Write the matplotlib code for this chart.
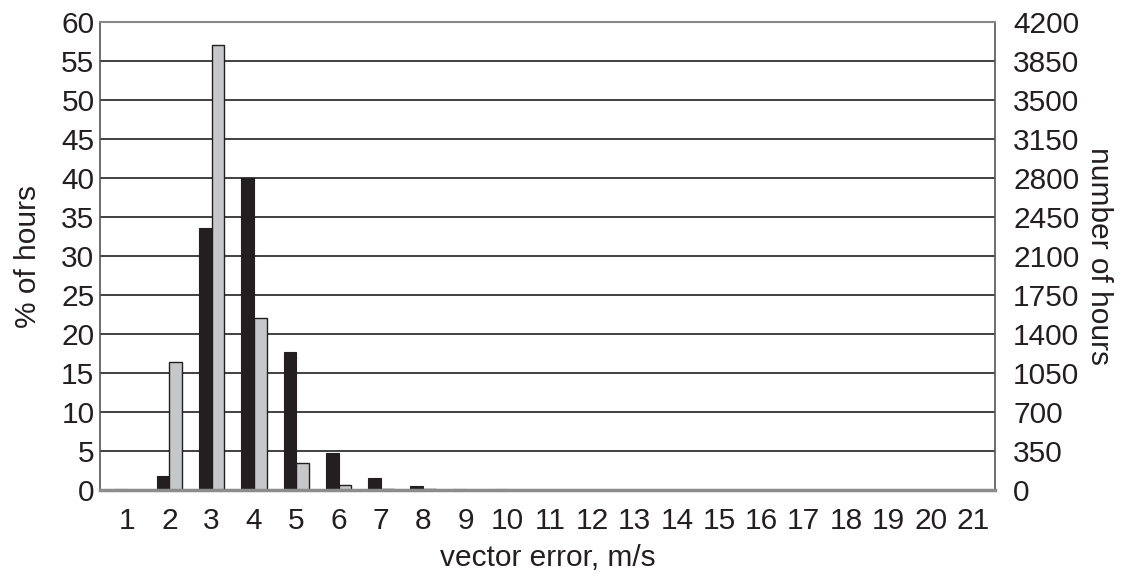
import matplotlib
matplotlib.use("Agg")
import matplotlib.pyplot as plt
import numpy as np

plt.rcParams['font.family'] = ['Liberation Sans', 'DejaVu Sans']

# vector error bins, m/s
bins = list(range(1, 22))
# share of hours per bin, %
pct_black = [0.1, 1.8, 33.6, 40.0, 17.7, 4.8, 1.5, 0.5, 0.1, 0.1, 0, 0, 0, 0, 0, 0, 0, 0, 0, 0, 0]
pct_gray = [0.05, 16.4, 57.1, 22.0, 3.4, 0.6, 0.15, 0.1, 0.05, 0, 0, 0, 0, 0, 0, 0, 0, 0, 0, 0, 0]
left_ticks = list(range(0, 61, 5))
right_ticks = list(range(0, 4201, 350))

fs = 21.5
ink = '#231f20'

fig = plt.figure(figsize=(11.27, 5.83), dpi=100)
ax = fig.add_axes([100 / 1127, 93 / 583, 895 / 1127, 468 / 583])

x = np.array(bins)
w = 0.3
for t in left_ticks[1:]:
    ax.axhline(t, color=ink, linewidth=1.2, zorder=0)
ax.bar(x - w / 2, pct_black, width=w, color=ink, edgecolor=ink, linewidth=0.8, zorder=2)
ax.bar(x + w / 2, pct_gray, width=w, color='#c6c7c9', edgecolor=ink, linewidth=1.0, zorder=2)

ax.set_xlim(0.36, 21.52)
ax.set_ylim(0, 60)
ax.set_xticks(bins)
ax.set_xticklabels([str(b) for b in bins])
ax.set_yticks(left_ticks)
ax.tick_params(axis='both', length=0, labelsize=fs, colors=ink)
ax.tick_params(axis='x', pad=12)
ax.tick_params(axis='y', pad=4)

for side in ('left', 'right'):
    ax.spines[side].set_color('#555555')
    ax.spines[side].set_linewidth(1.2)
ax.spines['top'].set_color('#888888')
ax.spines['top'].set_linewidth(1.5)
ax.spines['bottom'].set_color('#8c8c8c')
ax.spines['bottom'].set_linewidth(2.5)

ax.set_ylabel('% of hours', fontsize=fs, color=ink, labelpad=14)
ax.set_xlabel('vector error, m/s', fontsize=fs, color=ink, labelpad=7)

# right axis counts share the same scale (70 hours per %)
ax2 = ax.twinx()
ax2.set_ylim(0, 4200)
ax2.set_yticks(right_ticks)
ax2.tick_params(axis='y', length=0, labelsize=fs, colors=ink, pad=13)
for s in ax2.spines.values():
    s.set_visible(False)
ax2.set_ylabel('number of hours', fontsize=fs, color=ink, rotation=270, labelpad=24)

fig.savefig('out.png', dpi=100)
